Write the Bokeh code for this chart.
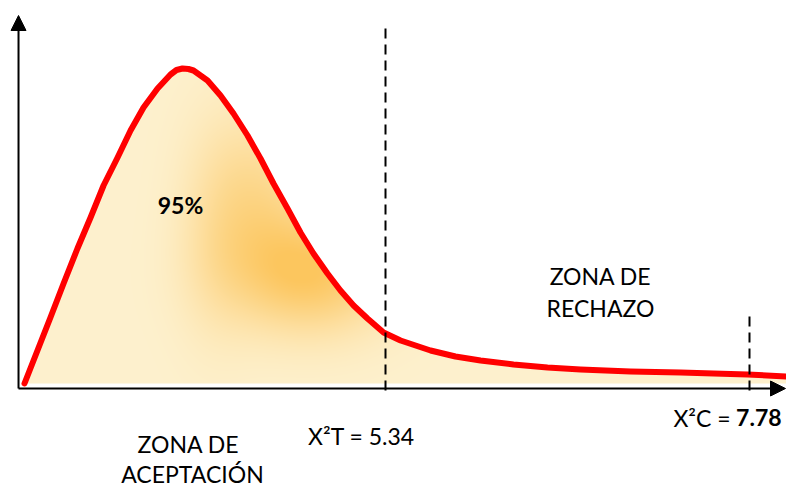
import numpy as np
from bokeh.plotting import figure
from bokeh.models import Range1d, Arrow, NormalHead
from bokeh.core.properties import value
from bokeh.embed import file_html
from bokeh.resources import INLINE

# ---------------- data (schematic units) ----------------
CURVE_X = [2.920, 3.007, 3.094, 3.182, 3.275, 3.363, 3.450, 3.544, 3.631, 3.718,
           3.812, 3.899, 3.939, 3.979, 4.019, 4.053, 4.147, 4.234, 4.321, 4.415,
           4.502, 4.589, 4.683, 4.770, 4.857, 4.951, 5.038, 5.126, 5.219, 5.327,
           5.441, 5.642, 5.809, 5.977, 6.198, 6.426, 6.647, 6.982, 7.318, 7.539,
           7.767, 8.028]
CURVE_Y = [0.004, 0.037, 0.070, 0.104, 0.139, 0.170, 0.202, 0.230, 0.257, 0.280,
           0.299, 0.313, 0.3175, 0.319, 0.3185, 0.317, 0.307, 0.292, 0.274, 0.252,
           0.229, 0.204, 0.179, 0.155, 0.134, 0.114, 0.097, 0.082, 0.069, 0.055,
           0.047, 0.037, 0.031, 0.027, 0.023, 0.020, 0.018, 0.016, 0.015, 0.014,
           0.013, 0.011]
X2_T = 5.34          # critical (table) value
X2_C = 7.78          # calculated value
ACCEPT_PCT = "95%"
ZONE_REJECT = ["ZONA DE", "RECHAZO"]
ZONE_ACCEPT = ["ZONA DE", "ACEPTACIÓN"]

# ---------------- layout ----------------
W, H = 786, 489
X_MIN, X_MAX = 2.7592, 8.0280
Y_MIN, Y_MAX = -0.102, 0.387
PX = (X_MAX - X_MIN) / W
PY = (Y_MAX - Y_MIN) / H
X_ORIGIN = 2.880
FONT = value("Lato")
FS = "23px"

p = figure(width=W, height=H, output_backend="svg", toolbar_location=None,
           x_range=Range1d(X_MIN, X_MAX), y_range=Range1d(Y_MIN, Y_MAX),
           min_border=0, outline_line_color=None)
p.axis.visible = False
p.grid.visible = False
p.background_fill_color = "white"
p.border_fill_color = "white"

# ---------------- gradient fill under the curve ----------------
cx = np.array(CURVE_X)
cy = np.array(CURVE_Y)
base_y = 0.004
u0, u1 = cx[0], X_MAX
d0, d1 = base_y, cy.max()
nx = int(round((u1 - u0) / PX))
ny = int(round((d1 - d0) / PY))
uc = u0 + (np.arange(nx) + 0.5) * PX
dc = d0 + (np.arange(ny) + 0.5) * PY
U, D = np.meshgrid(uc, dc)
top = np.interp(U, cx, cy)
mask = D <= top
# pixel-like helper coordinates for the glow shape
SX = (U - X_MIN) / PX
SY = (Y_MAX - D) / PY
t1 = 0.95 * np.exp(-(((SX - 310) / 80.0) ** 2 + ((SY - 272) / 60.0) ** 2))
t2 = 0.45 * np.exp(-(((SX - 258) / 50.0) ** 2 + ((SY - 195) / 80.0) ** 2))
t3 = 0.25 * np.exp(-(((SX - 215) / 40.0) ** 2 + ((SY - 230) / 110.0) ** 2))
t = np.clip(t1 + t2 + t3, 0, 1)
cream = np.array([254, 241, 206])
hot = np.array([252, 198, 94])
img = np.zeros((ny, nx), dtype=np.uint32)
view = img.view(dtype=np.uint8).reshape((ny, nx, 4))
for k in range(3):
    view[:, :, k] = (cream[k] + (hot[k] - cream[k]) * t).astype(np.uint8)
view[:, :, 3] = np.where(mask, 255, 0).astype(np.uint8)
p.image_rgba(image=[img], x=u0, y=d0, dw=nx * PX, dh=ny * PY)

# ---------------- curve ----------------
p.line(CURVE_X, CURVE_Y, line_color="#FF0000", line_width=6,
       line_join="round", line_cap="round")

# ---------------- dashed lines ----------------
p.segment(x0=[X2_T, X2_C], y0=[-0.003, -0.003], x1=[X2_T, X2_C], y1=[0.362, 0.076],
          line_color="black", line_width=2, line_dash="10 6")

# ---------------- axes as arrows ----------------
p.add_layout(Arrow(end=NormalHead(size=15, fill_color="black", line_color="black"),
                   x_start=X_ORIGIN, y_start=-0.001, x_end=X_ORIGIN, y_end=0.372,
                   line_color="black", line_width=2))
p.add_layout(Arrow(end=NormalHead(size=15, fill_color="black", line_color="black"),
                   x_start=X_ORIGIN, y_start=-0.001, x_end=X_MAX - 1 * PX, y_end=-0.001,
                   line_color="black", line_width=2))

# ---------------- texts ----------------
p.text(x=[3.966], y=[0.183], text=[ACCEPT_PCT], text_font=FONT, text_font_size=FS,
       text_font_style="bold", text_align="center", text_baseline="alphabetic",
       text_color="black")
p.text(x=[6.781, 6.781], y=[0.112, 0.080], text=ZONE_REJECT, text_font=FONT,
       text_font_size=FS, text_align="center", text_baseline="alphabetic",
       text_color="black")
p.text(x=[4.019, 4.046], y=[-0.056, -0.086], text=ZONE_ACCEPT, text_font=FONT,
       text_font_size=FS, text_align="center", text_baseline="alphabetic",
       text_color="black")
p.text(x=[5.179], y=[-0.048], text=[f"X²T = {X2_T}"], text_font=FONT,
       text_font_size=FS, text_align="center", text_baseline="alphabetic",
       text_color="black")
p.text(x=[7.995], y=[-0.030], text=[f"{X2_C}"], text_font=FONT,
       text_font_size=FS, text_font_style="bold", text_align="right",
       text_baseline="alphabetic", text_color="black")
p.text(x=[7.995], y=[-0.030], text=["X²C ="], text_font=FONT,
       text_font_size=FS, text_align="right", text_baseline="alphabetic",
       text_color="black", x_offset=-51)

open("out.html", "w").write(file_html(p, INLINE))
